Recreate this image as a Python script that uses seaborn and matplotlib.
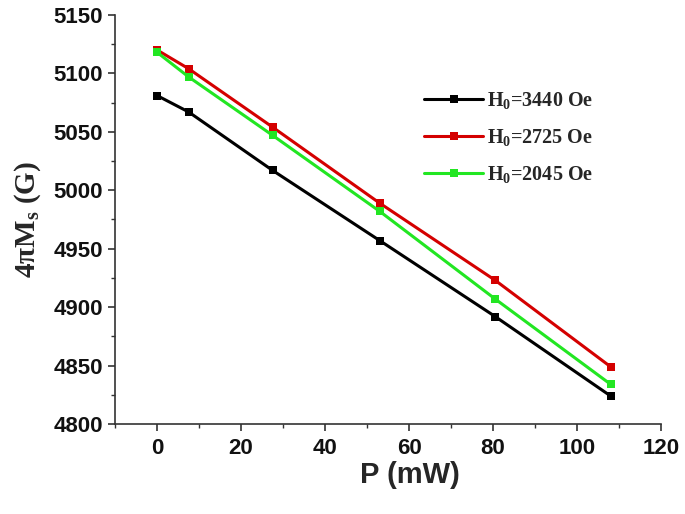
import matplotlib
matplotlib.use('Agg')
import matplotlib.pyplot as plt
import pandas as pd
import seaborn as sns
from matplotlib.ticker import MultipleLocator

power = [0, 7.5, 27.5, 53, 80.5, 108]
ms_3440 = [5081, 5067, 5017, 4957, 4892, 4824]
ms_2725 = [5120, 5104, 5054, 4989, 4923, 4849]
ms_2045 = [5118, 5097, 5047, 4982, 4907, 4834]
labels = ['H$_0$=3440 Oe', 'H$_0$=2725 Oe', 'H$_0$=2045 Oe']
colors = ['#000000', '#d40000', '#22e622']

sns.set_style('ticks')
plt.rcParams['font.family'] = ['Liberation Sans', 'DejaVu Sans']
plt.rcParams['mathtext.fontset'] = 'custom'
plt.rcParams['mathtext.rm'] = 'Liberation Serif:bold'
plt.rcParams['mathtext.it'] = 'Liberation Serif:bold'
plt.rcParams['mathtext.bf'] = 'Liberation Serif:bold'

rows = []
for lab, vals in zip(labels, [ms_3440, ms_2725, ms_2045]):
    for p, v in zip(power, vals):
        rows.append({'P': p, 'Ms': v, 'field': lab})
df = pd.DataFrame(rows)

fig = plt.figure(figsize=(6.85, 5.14), dpi=100)
ax = fig.add_axes([0.168, 0.175, 0.797, 0.796])

sns.lineplot(data=df, x='P', y='Ms', hue='field', palette=colors,
             marker='s', markersize=6, markeredgewidth=0, linewidth=2.2,
             ax=ax, legend=False)

ax.set_xlim(-10, 120)
ax.set_ylim(4800, 5150)
ax.xaxis.set_major_locator(MultipleLocator(20))
ax.xaxis.set_minor_locator(MultipleLocator(10))
ax.yaxis.set_major_locator(MultipleLocator(50))
ax.yaxis.set_minor_locator(MultipleLocator(25))
ax.tick_params(which='major', direction='out', length=5, width=1.2, colors='#333333',
               labelsize=16, labelcolor='#111111')
ax.tick_params(axis='x', which='major', pad=5)
ax.tick_params(which='minor', direction='out', length=3, width=1.0, colors='#333333')
for t in ax.get_xticklabels() + ax.get_yticklabels():
    t.set_fontweight('bold')
sns.despine(ax=ax)
for s in ['left', 'bottom']:
    ax.spines[s].set_linewidth(1.2)
    ax.spines[s].set_color('#333333')

ax.set_xlabel('P (mW)', fontsize=21, fontweight='bold')
ax.xaxis.set_label_coords(0.54, -0.09)
ax.set_ylabel('4πM$_s$ (G)', fontsize=21, fontweight='bold',
              family=['Liberation Serif', 'DejaVu Serif'], labelpad=8)

handles = [plt.Line2D([], [], color=c, marker='s', markersize=5.5, markeredgewidth=0, linewidth=2.2)
           for c in colors]
leg = fig.legend(handles, labels, loc='upper left', bbox_to_anchor=(0.593, 0.86),
                 frameon=False, handlelength=2.9, handletextpad=0.2, labelspacing=0.8,
                 prop={'family': 'Liberation Serif', 'weight': 'bold', 'size': 14.5})

fig.savefig('out.png', dpi=100)
